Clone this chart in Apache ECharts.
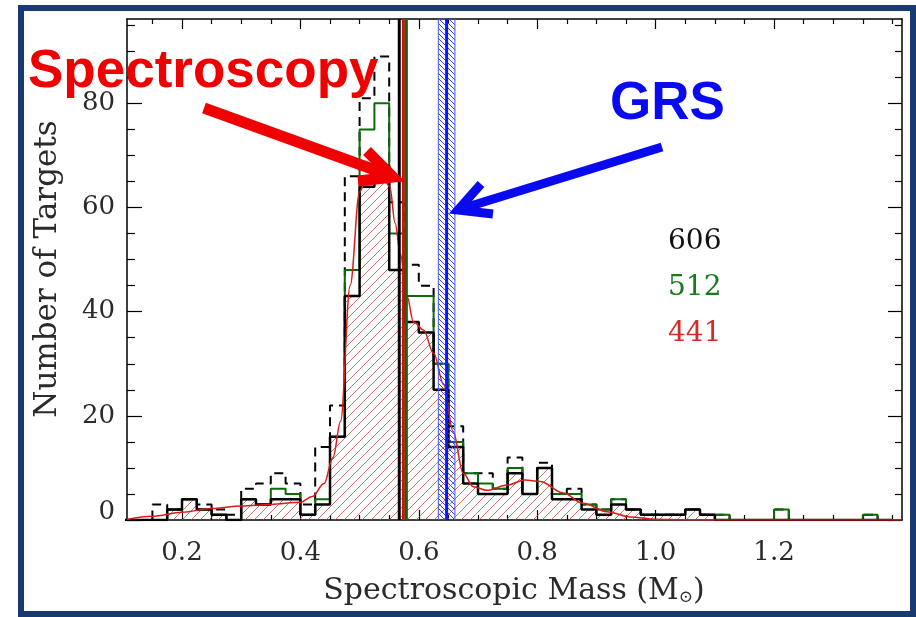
<!DOCTYPE html>
<html><head><meta charset="utf-8">
<script src="https://cdn.jsdelivr.net/npm/echarts@6/dist/echarts.min.js"></script>
<style>html,body{margin:0;padding:0;background:#fff}#c{width:916px;height:617px}</style>
</head><body><div id="c"></div>
<script>
// ---------- data ----------
const binStart = 0.1;
const binWidth = 0.025;
// dashed black histogram (606 targets)
const countsAll = [0,0,3,2,4,3,2,1,6,7,9,7,3,14,22,66,81,89,61,49,45,30,18,9,9,6,12,5,11,5,6,3,2,4,2,1,1,1,2,1,1,0,0,0,2,0,0,0,0,0,1,0];
// green histogram (512 targets)
const countsMid = [0,0,0,2,4,2,1,0,4,3,6,5,1,4,16,48,75,80,55,43,43,30,15,9,7,6,10,5,10,5,5,3,2,4,2,1,1,1,2,1,1,0,0,0,2,0,0,0,0,0,1,0];
// solid black, red hatched histogram (441 targets)
const countsSel = [0,0,0,2,4,2,1,0,4,3,4,4,1,3,16,43,64,68,48,38,36,25,14,7,5,5,9,5,10,4,4,2,1,3,2,1,1,1,2,1,0,0,0,0,0,0,0,0,0,0,0,0];
// smooth red density curve
const kdeX = [0.107,0.15,0.2,0.25,0.3,0.35,0.4,0.42,0.44,0.455,0.468,0.484,0.5,0.513,0.535,0.551,0.56,0.569,0.58,0.591,0.608,0.625,0.642,0.658,0.675,0.692,0.715,0.749,0.779,0.805,0.844,0.877,0.918,0.957,1.0,1.05,1.1,1.2,1.416];
const kdeY = [0.1,0.7,1.5,2.2,2.7,3.0,3.4,4.5,7,12,19,45,63,66,67,64,57,51,43,38,36.5,32,26,17,9,6.4,5.7,6.7,7.7,7.4,5.2,3.2,1.6,0.6,0.15,0.05,0,0,0];
// vertical markers
const specLines = [0.567, 0.574, 0.579];
const specColors = ['#000000', '#cc1111', '#0b6b0b'];
const grsBand = [0.633, 0.661];
const grsCenter = 0.647;
// ticks
const xMajor = [0.2, 0.4, 0.6, 0.8, 1.0, 1.2];
const xMinor = [0.15,0.25,0.3,0.35,0.45,0.5,0.55,0.65,0.7,0.75,0.85,0.9,0.95,1.05,1.1,1.15,1.25,1.3,1.35,1.4];
const yMajor = [0, 20, 40, 60, 80];
const yMinor = [5,10,15,25,30,35,45,50,55,65,70,75,85,90,95];
const countLabels = ['606', '512', '441'];
const countColors = ['#111111', '#1a7a1a', '#d42a2a'];
const xRange = [0.1071, 1.4162];
const yRange = [0, 96.2];

// ---------- helpers ----------
function steps(counts) {
  const pts = [[binStart, 0]];
  counts.forEach((c, i) => {
    const l = binStart + i * binWidth;
    pts.push([l, c], [l + binWidth, c]);
  });
  pts.push([binStart + counts.length * binWidth, 0]);
  return pts;
}
function hatch(size, color, dir, lw) {
  const cv = document.createElement('canvas');
  cv.width = size; cv.height = size;
  const g = cv.getContext('2d');
  g.strokeStyle = color; g.lineWidth = lw;
  g.beginPath();
  for (let k = -1; k <= 1; k++) {
    if (dir > 0) { g.moveTo(k * size, size); g.lineTo(k * size + size, 0); }
    else { g.moveTo(k * size, 0); g.lineTo(k * size + size, size); }
  }
  g.stroke();
  return cv;
}
const redHatch = { image: hatch(9, 'rgba(185,75,55,0.75)', 1, 1), repeat: 'repeat' };
const blueHatch = { image: hatch(5, '#3344ff', -1, 1), repeat: 'repeat' };

const serif = '"DejaVu Serif", serif';
const txt = '#2a2a2a';
const axisBase = { type: 'value', min: xRange[0], max: xRange[1], splitLine: { show: false } };
function xAx(pos, ticks, len, line, labels) {
  return Object.assign({}, axisBase, {
    position: pos,
    axisLine: { show: line, onZero: false, lineStyle: { color: '#000', width: 1.5 } },
    axisTick: { show: true, inside: true, length: len, customValues: ticks, lineStyle: { color: '#000', width: 1.2 } },
    axisLabel: labels ? { show: true, customValues: ticks, margin: 20, color: txt, fontFamily: serif, fontSize: 26, formatter: v => v.toFixed(1) } : { show: false }
  });
}
function yAx(pos, ticks, len, line, labels) {
  return {
    type: 'value', min: yRange[0], max: yRange[1], position: pos, splitLine: { show: false },
    axisLine: { show: line, onZero: false, lineStyle: { color: '#000', width: 1.5 } },
    axisTick: { show: true, inside: true, length: len, customValues: ticks, lineStyle: { color: '#000', width: 1.2 } },
    axisLabel: labels ? { show: true, customValues: ticks, margin: 12, color: txt, fontFamily: serif, fontSize: 26,
      formatter: v => (v === 0 ? '{z|0}' : String(v)), rich: { z: { fontFamily: serif, fontSize: 26, color: txt, padding: [0, 0, 15, 0] } } } : { show: false }
  };
}
function vline(v, color, width) {
  return { type: 'line', data: [[v, yRange[0]], [v, yRange[1]]], symbol: 'none', silent: true, z: 6,
    lineStyle: { color: color, width: width } };
}

const chart = echarts.init(document.getElementById('c'), null, { renderer: 'canvas' });
const series = [
  { type: 'line', name: 'fill', data: steps(countsSel), symbol: 'none', silent: true, z: 1,
    lineStyle: { width: 0 }, areaStyle: { color: redHatch, opacity: 1 } },
  { type: 'line', name: 'all', data: steps(countsAll), symbol: 'none', silent: true, z: 2,
    lineStyle: { color: '#000', width: 2, type: [9, 6] } },
  { type: 'line', name: 'mid', data: steps(countsMid), symbol: 'none', silent: true, z: 3,
    lineStyle: { color: '#0b6b0b', width: 2 } },
  { type: 'line', name: 'sel', data: steps(countsSel), symbol: 'none', silent: true, z: 4,
    lineStyle: { color: '#000', width: 2.5 } },
  { type: 'line', name: 'kde', data: kdeX.map((x, i) => [x, kdeY[i]]), symbol: 'none', silent: true, z: 5,
    smooth: 0.35, smoothMonotone: 'x', lineStyle: { color: '#dd1a1a', width: 1.5 } },
  { type: 'line', name: 'band', data: [[grsBand[0], yRange[1]], [grsBand[1], yRange[1]]], symbol: 'none', silent: true, z: 6,
    lineStyle: { color: '#4455ff', width: 1 }, areaStyle: { color: blueHatch, opacity: 1 } },
  vline(grsBand[0], '#4455ff', 1),
  vline(grsBand[1], '#4455ff', 1),
  vline(grsCenter, '#0a14ff', 3)
].concat(specLines.map((v, i) => vline(v, specColors[i], 3)));

const option = {
  backgroundColor: '#fff',
  animation: false,
  grid: { left: 127, right: 14, top: 19, bottom: 97, containLabel: false },
  xAxis: [
    xAx('bottom', xMajor, 10, true, true),
    xAx('bottom', xMinor, 5, false, false),
    xAx('top', xMajor, 10, true, false),
    xAx('top', xMinor, 5, false, false)
  ],
  yAxis: [
    yAx('left', yMajor, 15, true, true),
    yAx('left', yMinor, 8, false, false),
    yAx('right', yMajor, 14, true, false),
    yAx('right', yMinor, 7, false, false)
  ],
  series: series,
  graphic: [
    { type: 'rect', shape: { x: 21, y: 8, width: 892, height: 606 }, style: { fill: 'none', stroke: '#173a70', lineWidth: 6 }, z: 100 },
    { type: 'text', x: 48, y: 269, rotation: Math.PI / 2,
      style: { text: 'Number of Targets', font: '31px ' + serif, fill: txt, align: 'center', verticalAlign: 'middle', textAlign: 'center', textVerticalAlign: 'middle' } },
    { type: 'text', x: 514, y: 591,
      style: { text: 'Spectroscopic Mass (M{s|⊙})', font: '30px ' + serif, fill: txt, align: 'center', verticalAlign: 'middle', textAlign: 'center', textVerticalAlign: 'middle',
        rich: { s: { font: '17px ' + serif, fill: txt, verticalAlign: 'bottom', padding: [14, 0, 0, 0] } } } },
    { type: 'text', x: 668, y: 242, style: { text: countLabels[0], font: '28px ' + serif, fill: countColors[0], verticalAlign: 'middle', textVerticalAlign: 'middle' } },
    { type: 'text', x: 668, y: 288, style: { text: countLabels[1], font: '28px ' + serif, fill: countColors[1], verticalAlign: 'middle', textVerticalAlign: 'middle' } },
    { type: 'text', x: 668, y: 334, style: { text: countLabels[2], font: '28px ' + serif, fill: countColors[2], verticalAlign: 'middle', textVerticalAlign: 'middle' } },
    { type: 'text', x: 28, y: 72, z: 50, style: { text: 'Spectroscopy', font: 'bold 53px "Liberation Sans", Arial, sans-serif', fill: '#f00000', verticalAlign: 'middle', textVerticalAlign: 'middle' } },
    { type: 'text', x: 610, y: 104, z: 50, style: { text: 'GRS', font: 'bold 53px "Liberation Sans", Arial, sans-serif', fill: '#0a0af0', verticalAlign: 'middle', textVerticalAlign: 'middle' } },
    { type: 'polyline', z: 50, shape: { points: [[204, 108], [386, 174]] }, style: { stroke: '#f00000', lineWidth: 11, fill: 'none' } },
    { type: 'polyline', z: 50, shape: { points: [[367, 151], [393, 177], [358, 181]] }, style: { stroke: '#f00000', lineWidth: 11, fill: 'none', lineJoin: 'miter' } },
    { type: 'polyline', z: 50, shape: { points: [[662, 147], [464, 208]] }, style: { stroke: '#0a0af0', lineWidth: 9, fill: 'none' } },
    { type: 'polyline', z: 50, shape: { points: [[481, 184], [458, 210], [493, 214]] }, style: { stroke: '#0a0af0', lineWidth: 9, fill: 'none', lineJoin: 'miter' } }
  ]
};
chart.setOption(option);
</script></body></html>
